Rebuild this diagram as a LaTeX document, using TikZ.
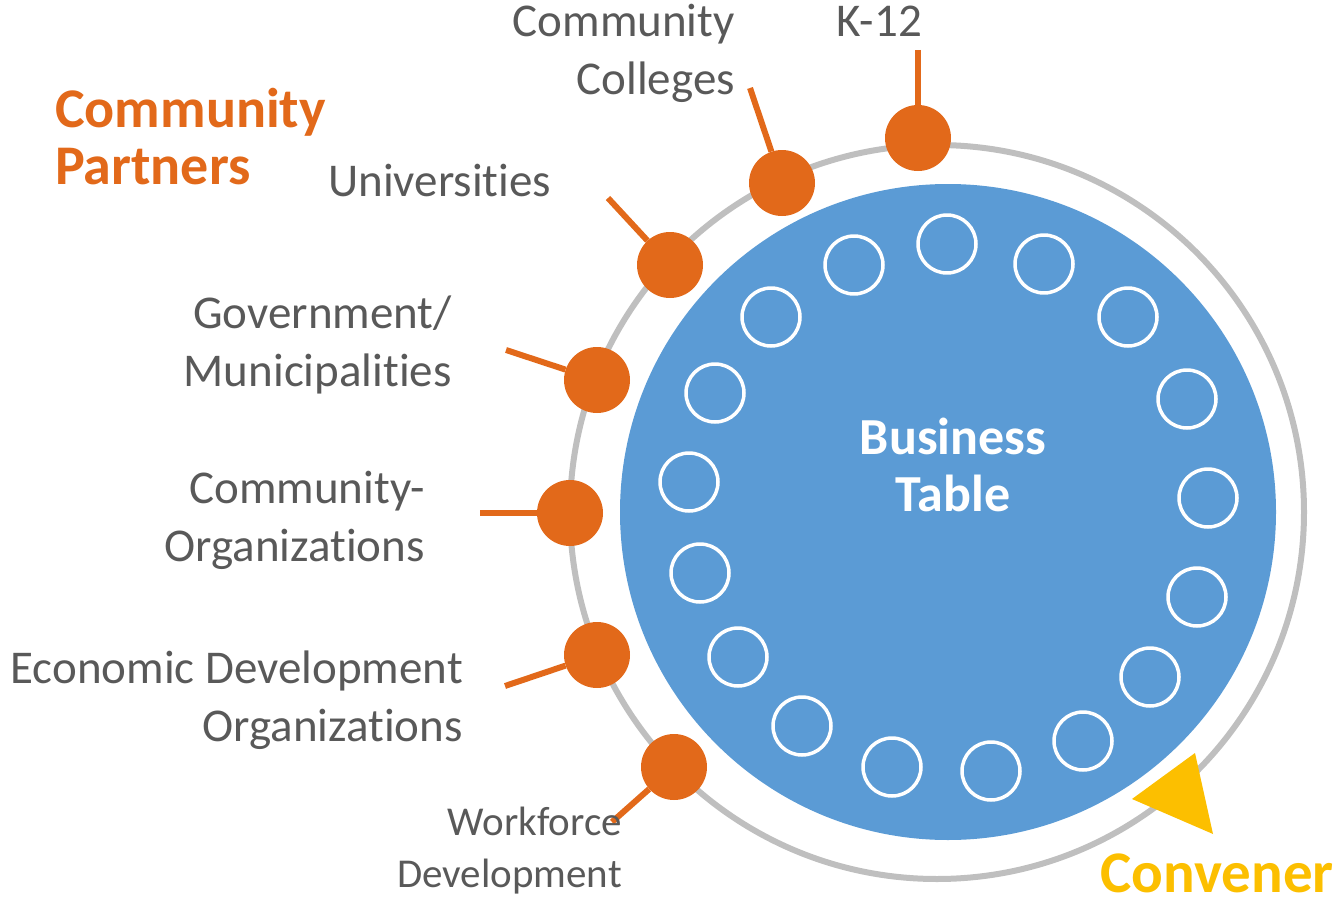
\documentclass[tikz,border=0pt]{standalone}
\usepackage{fontspec}
\setmainfont[Ligatures=NoCommon]{Carlito}
\usepackage{tikz}
\usetikzlibrary{arrows}
\definecolor{partnerorange}{HTML}{E2691A}
\definecolor{tableblue}{HTML}{5B9BD5}
\definecolor{ringgray}{HTML}{BFBFBF}
\definecolor{labelgray}{HTML}{595959}
\definecolor{convenergold}{HTML}{FCBF00}

\begin{document}
\begin{tikzpicture}[line cap=round,line join=round,x=1pt,y=-1pt,
	dot/.style={circle,fill=partnerorange,minimum size=66pt,inner sep=0pt},
	seat/.style={circle,draw=white,line width=3.5pt,minimum size=58pt,inner sep=0pt},
	spoke/.style={draw=partnerorange,line width=6pt,line cap=butt},
	lbl/.style={text=labelgray,font=\fontsize{47}{58}\selectfont,inner sep=0pt,align=right},
	headline/.style={font=\fontsize{56}{57}\selectfont\bfseries,inner sep=0pt}]
	\useasboundingbox (0,0) rectangle (1342,899);
	% ring and table
	\draw[ringgray,line width=6pt] (937,512) circle (367);
	\fill[tableblue] (948,512) circle (328);
	\foreach \x/\y [count=\i] in {947/244,1044/264,1128/317,1187/399,1208/498,1197/597,
		1150/677,1083/741,991/771,892/767,802/726,738/657,700/573,689/482,715/393,771/317,854/265}
		\node[seat] (s\i) at (\x,\y) {};
	\node[headline,text=white,align=center,font=\fontsize{52}{57}\selectfont\bfseries] (table) at (953,465) {Business\\Table};
	% partners on the ring
	\node[dot] (k12) at (918,138) {};
	\node[dot] (cc) at (782,183) {};
	\node[dot] (univ) at (670,265) {};
	\node[dot] (gov) at (597,380) {};
	\node[dot] (org) at (570,513) {};
	\node[dot] (econ) at (597,655) {};
	\node[dot] (work) at (674,767) {};
	\coordinate (k12e) at (918,50);
	\coordinate (cce) at (750,88);
	\coordinate (unive) at (608,198);
	\coordinate (gove) at (506,350);
	\coordinate (orge) at (480,513);
	\coordinate (econe) at (505,686);
	\coordinate (worke) at (612,822);
	\draw[spoke] (k12e) -- (k12);
	\draw[spoke] (cce) -- (cc);
	\draw[spoke] (unive) -- (univ);
	\draw[spoke] (gove) -- (gov);
	\draw[spoke] (orge) -- (org);
	\draw[spoke] (econe) -- (econ);
	\draw[spoke] (worke) -- (work);
	% labels
	\node[lbl,anchor=base west] (k12lbl) at (836,37) {K-12};
	\node[lbl,anchor=east] (cclbl) at (735,53) {Community\\Colleges};
	\node[lbl,anchor=base west] (univlbl) at (328,196) {Universities};
	\node[lbl,anchor=east] (govlbl) at (452,345) {Government/\\Municipalities};
	\node[lbl,anchor=east] (orglbl) at (425,520) {Community-\\Organizations};
	\node[lbl,anchor=east] (econlbl) at (463,700) {Economic Development\\Organizations};
	\node[lbl,anchor=east,font=\fontsize{41}{52}\selectfont] (worklbl) at (622,851) {Workforce\\Development};
	\node[headline,text=partnerorange,align=left,anchor=west] (partners) at (55,137) {Community\\Partners};
	% convener
	\fill[convenergold] (1195,753) -- (1132,799) -- (1213,834) -- cycle;
	\node[headline,text=convenergold,font=\fontsize{59}{59}\selectfont\bfseries,anchor=east] (convener) at (1334,873) {Convener};
\end{tikzpicture}
\end{document}
